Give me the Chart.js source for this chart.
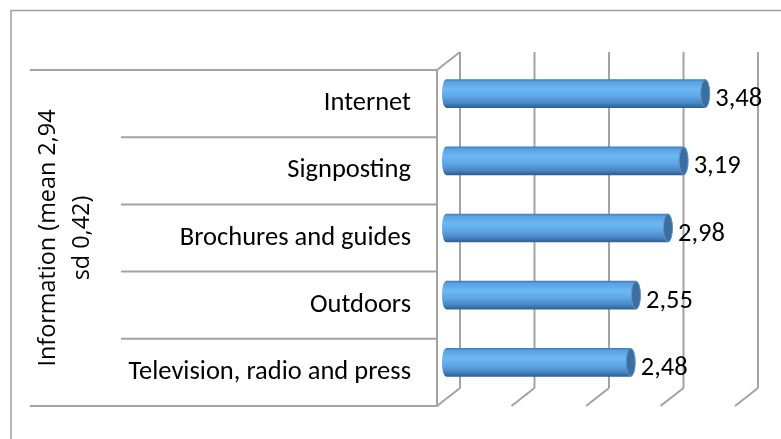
<!DOCTYPE html>
<html>
<head>
<meta charset="utf-8">
<script src="https://cdn.jsdelivr.net/npm/chart.js@4.4.1/dist/chart.umd.min.js"></script>
<style>
  html, body { margin: 0; padding: 0; background: #fff; }
  #chart { display: block; }
</style>
</head>
<body>
<canvas id="chart" width="781" height="439"></canvas>
<script>
// values
const categories = ["Internet", "Signposting", "Brochures and guides", "Outdoors", "Television, radio and press"];
const values = [3.48, 3.19, 2.98, 2.55, 2.48];
const valueLabels = ["3,48", "3,19", "2,98", "2,55", "2,48"];
const axisTitle = ["Information (mean 2,94", "sd 0,42)"];
const xTicks = [0, 1, 2, 3, 4];

// 3D look: back wall offset and bar depth offset
const WALL_DX = 23, WALL_DY = 18;
const BAR_DX = 9, BAR_DY = -10;
const LINE_COLOR = "#a3a3a3";
const LABEL_FONT = "26.5px Carlito, Lato, sans-serif";

function barGradient(ctx, yc, h) {
    if (!isFinite(yc)) return "#5aa2e2";
    const g = ctx.createLinearGradient(0, yc - h / 2, 0, yc + h / 2);
    g.addColorStop(0, "#3f7fbd");
    g.addColorStop(0.08, "#5aa2e2");
    g.addColorStop(0.35, "#6db7f2");
    g.addColorStop(0.6, "#5ea7e7");
    g.addColorStop(0.85, "#4784c2");
    g.addColorStop(1, "#2f5f90");
    return g;
}

const frame3d = {
    id: "frame3d",
    beforeDraw(chart) {
        const ctx = chart.ctx;
        const area = chart.chartArea;
        const x = chart.scales.x;
        const n = categories.length;
        const band = (area.bottom - area.top) / n;
        ctx.save();
        // outer border
        ctx.strokeStyle = "#a0a0a0";
        ctx.lineWidth = 1.5;
        ctx.strokeRect(11, 10.5, 900, 600);

        ctx.strokeStyle = LINE_COLOR;
        ctx.lineWidth = 2;
        // category separators
        for (let i = 0; i <= n; i++) {
            const y = area.top + i * band;
            const x0 = (i === 0 || i === n) ? 30 : 121;
            ctx.beginPath();
            ctx.moveTo(x0, y);
            ctx.lineTo(area.left, y);
            ctx.stroke();
        }
        // back wall grid and floor diagonals
        xTicks.forEach(v => {
            const px = x.getPixelForValue(v);
            ctx.beginPath();
            ctx.moveTo(px + WALL_DX, area.top - WALL_DY);
            ctx.lineTo(px + WALL_DX, area.bottom - WALL_DY);
            ctx.stroke();
            ctx.beginPath();
            ctx.moveTo(px, area.bottom);
            ctx.lineTo(px + WALL_DX, area.bottom - WALL_DY);
            ctx.stroke();
        });
        // top diagonal of the side wall
        ctx.beginPath();
        ctx.moveTo(area.left, area.top);
        ctx.lineTo(area.left + WALL_DX, area.top - WALL_DY);
        ctx.stroke();
        ctx.restore();
    },
    beforeDatasetsDraw(chart) {
        chart.ctx.save();
        chart.ctx.translate(BAR_DX, BAR_DY);
    },
    afterDatasetsDraw(chart) {
        const ctx = chart.ctx;
        const meta = chart.getDatasetMeta(0);
        meta.data.forEach(el => {
            const h = el.height;
            // rounded left end
            ctx.beginPath();
            ctx.ellipse(el.base, el.y, 4, h / 2, 0, Math.PI / 2, Math.PI * 1.5);
            ctx.closePath();
            ctx.fillStyle = barGradient(ctx, el.y, h);
            ctx.fill();
            // cap at the value end
            ctx.beginPath();
            ctx.ellipse(el.x, el.y, 4.5, h / 2, 0, 0, Math.PI * 2);
            ctx.fillStyle = "#3c6f9f";
            ctx.fill();
            ctx.strokeStyle = "#5e94c8";
            ctx.lineWidth = 1;
            ctx.stroke();
        });
        ctx.restore();

        // value labels
        ctx.save();
        ctx.font = LABEL_FONT;
        ctx.fillStyle = "#000";
        ctx.textAlign = "left";
        ctx.textBaseline = "middle";
        meta.data.forEach((el, i) => {
            ctx.fillText(valueLabels[i], el.x + BAR_DX + 10, el.y - 4);
        });
        ctx.restore();
    }
};

const ctx = document.getElementById("chart");
new Chart(ctx, {
    type: "bar",
    data: {
        labels: categories,
        datasets: [{
            data: values,
            barThickness: 28,
            borderWidth: 0,
            backgroundColor: function (c) {
                const y = c.chart.scales.y;
                if (!y) return "#5aa2e2";
                return barGradient(c.chart.ctx, y.getPixelForValue(c.dataIndex), 28);
            }
        }]
    },
    options: {
        indexAxis: "y",
        responsive: false,
        animation: false,
        devicePixelRatio: 1,
        layout: { padding: { left: 11, top: 70, right: 46, bottom: 33 } },
        plugins: { legend: { display: false }, tooltip: { enabled: false } },
        scales: {
            x: {
                display: false,
                min: 0,
                max: 4
            },
            y: {
                // tick marks are hidden, their length only spaces the labels
                grid: { display: false, drawTicks: true, tickLength: 26 },
                border: { display: true, color: LINE_COLOR, width: 2 },
                ticks: {
                    padding: 0,
                    color: "#000",
                    font: { family: "Carlito, Lato, sans-serif", size: 26.5 }
                },
                title: {
                    display: true,
                    text: axisTitle,
                    color: "#000",
                    padding: { top: 20, bottom: 0 },
                    font: { family: "'Open Sans', sans-serif", size: 23.4, lineHeight: 1.45 }
                },
                afterFit: function (scale) {
                    scale.width = 426;
                }
            }
        }
    },
    plugins: [frame3d]
});
</script>
</body>
</html>
